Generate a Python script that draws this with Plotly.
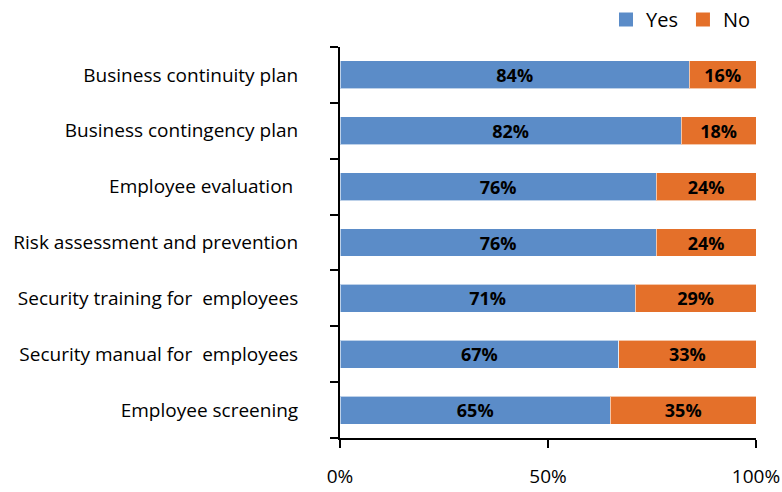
import plotly.graph_objects as go

# Security measures in place, share of respondents (%)
categories = [
    "Business continuity plan",
    "Business contingency plan",
    "Employee evaluation\u00a0",
    "Risk assessment and prevention",
    "Security training for \u00a0employees",
    "Security manual for \u00a0employees",
    "Employee screening",
]
yes_values = [84, 82, 76, 76, 71, 67, 65]
no_values = [16, 18, 24, 24, 29, 33, 35]
tick_values = [0, 50, 100]
tick_labels = ["0%", "50%", "100%"]

BLUE = "#5B8CC8"
ORANGE = "#E4702A"
FONT = "Open Sans"

fig = go.Figure()
for name, vals, color in [("Yes", yes_values, BLUE), ("No", no_values, ORANGE)]:
    fig.add_trace(go.Bar(
        name=name,
        y=categories,
        x=vals,
        orientation="h",
        width=0.5,
        marker=dict(color=color, line=dict(color="rgba(255,255,255,0.6)", width=1)),
        text=[f"{v}%" for v in vals],
        textposition="inside",
        insidetextanchor="middle",
        textangle=0,
        textfont=dict(family=FONT, size=18, color="black", weight="bold"),
        hoverinfo="skip",
        showlegend=False,
    ))
    # larger square swatch for the legend entry
    fig.add_trace(go.Scatter(
        name=name,
        x=[None],
        y=[None],
        mode="markers",
        marker=dict(symbol="square", size=14, color=color),
        hoverinfo="skip",
        showlegend=True,
    ))

fig.update_layout(
    barmode="stack",
    width=782,
    height=492,
    margin=dict(l=340, r=26, t=47, b=54, autoexpand=False),
    paper_bgcolor="white",
    plot_bgcolor="white",
    font=dict(family=FONT, size=19, color="black"),
    uniformtext=dict(mode="show", minsize=18),
    legend=dict(
        orientation="h",
        x=1.0, xanchor="right",
        y=1.0, yanchor="top",
        yref="container",
        font=dict(size=20),
        traceorder="normal",
        itemwidth=30,
        tracegroupgap=0,
    ),
    showlegend=True,
)

fig.update_xaxes(
    range=[0, 100],
    tickvals=tick_values,
    ticktext=tick_labels,
    showgrid=False,
    zeroline=False,
    showline=True,
    linecolor="black",
    linewidth=2,
    ticks="outside",
    ticklen=8,
    tickwidth=2,
    tickcolor="black",
    ticklabelstandoff=12,
    tickfont=dict(size=19),
    automargin=False,
    fixedrange=True,
)
fig.update_yaxes(
    categoryorder="array",
    categoryarray=categories[::-1],
    type="category",
    tickson="boundaries",
    showgrid=False,
    zeroline=False,
    showline=True,
    linecolor="black",
    linewidth=2,
    ticks="outside",
    ticklen=8,
    tickwidth=2,
    tickcolor="black",
    ticklabelstandoff=36,
    tickfont=dict(size=19),
    automargin=False,
    fixedrange=True,
)

fig.write_html("out.html")
